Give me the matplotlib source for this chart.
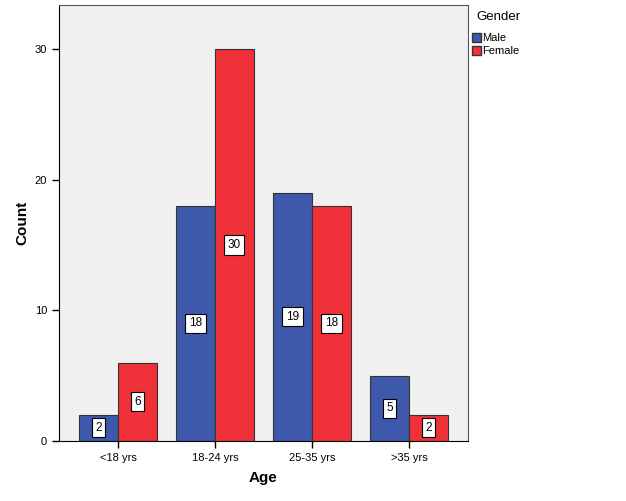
import matplotlib.pyplot as plt
import numpy as np
from matplotlib.patches import Patch

plt.rcParams['font.family'] = ['Liberation Sans', 'DejaVu Sans']

# Data
age_groups = ["<18 yrs", "18-24 yrs", "25-35 yrs", ">35 yrs"]
male_counts = [2, 18, 19, 5]
female_counts = [6, 30, 18, 2]

male_color = "#3E58AC"
female_color = "#F0313A"

fig = plt.figure(figsize=(6.26, 5.01), dpi=100)
ax = fig.add_axes([0.0942, 0.1198, 0.6534, 0.8702])
ax.set_facecolor("#F0F0F0")

x = np.arange(len(age_groups))
w = 0.4
bars_m = ax.bar(x - w / 2, male_counts, w, color=male_color, edgecolor="#333333", linewidth=0.8)
bars_f = ax.bar(x + w / 2, female_counts, w, color=female_color, edgecolor="#333333", linewidth=0.8)

# Value labels in white boxes at mid-height
for bars, vals in [(bars_m, male_counts), (bars_f, female_counts)]:
    for b, v in zip(bars, vals):
        ax.text(b.get_x() + b.get_width() / 2, v / 2, str(v), ha="center", va="center",
                fontsize=8.5,
                bbox=dict(boxstyle="square,pad=0.3", facecolor="white", edgecolor="black", linewidth=0.8))

ax.set_xlim(-0.608, 3.608)
ax.set_ylim(0, 33.37)
ax.set_xticks(x)
ax.set_xticklabels(age_groups, fontsize=8)
ax.set_yticks([0, 10, 20, 30])
ax.tick_params(axis="both", labelsize=8, length=5, width=1, color="black")
ax.set_xlabel("Age", fontsize=11, fontweight="bold", labelpad=6)
ax.set_ylabel("Count", fontsize=11, fontweight="bold", labelpad=4)

for s in ["left", "bottom"]:
    ax.spines[s].set_color("black")
for s in ["top", "right"]:
    ax.spines[s].set_color("#555555")

# Legend: title as separate text, entries below
fig.text(476 / 626, 1 - 17 / 501, "Gender", fontsize=9.5, ha="left", va="center")
handles = [Patch(facecolor=male_color, edgecolor="#333333", label="Male"),
           Patch(facecolor=female_color, edgecolor="#333333", label="Female")]
fig.legend(handles=handles, loc="upper left", bbox_to_anchor=(472 / 626, 1 - 33 / 501),
           frameon=False, fontsize=8, handlelength=0.8, handleheight=0.9,
           handletextpad=0.1, labelspacing=0.2, borderaxespad=0.0, borderpad=0.0)

fig.savefig("out.png", dpi=100)
